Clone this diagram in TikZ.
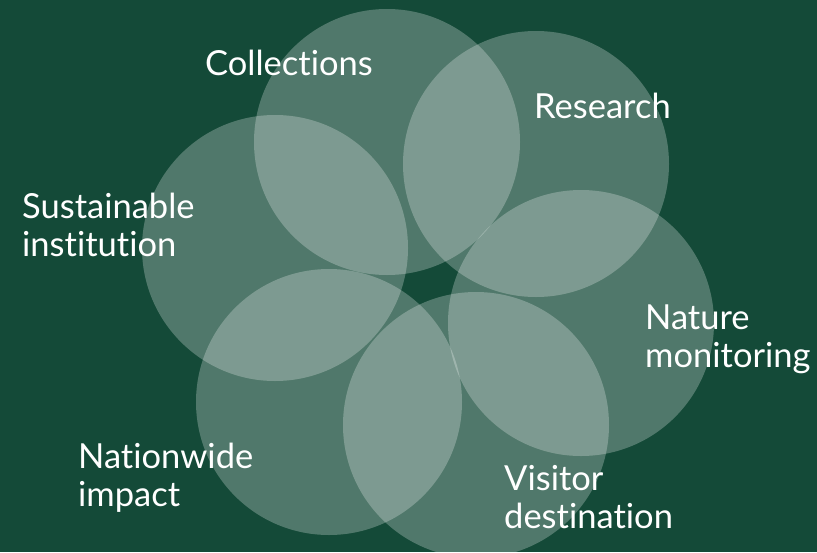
\documentclass[tikz,border=0pt]{standalone}
\usepackage{fontspec}
\setmainfont{Lato}[Ligatures=NoCommon]
\definecolor{forest}{RGB}{20,74,56}

\begin{document}
\begin{tikzpicture}[
    x=1pt,
    y=-1pt,
    petal/.style={circle, fill=white, fill opacity=0.26, minimum size=266pt, inner sep=0pt},
    areatext/.style={anchor=north west, align=left, inner sep=0pt, text=white,
                     font=\fontsize{34.5}{38}\selectfont},
]

    \fill[forest] (0,0) rectangle (817,552);
    \useasboundingbox (0,0) rectangle (817,552);

    \node[petal] (sustainable) at (275,248) {};
    \node[petal] (collections) at (387,142) {};
    \node[petal] (research)    at (536,164) {};
    \node[petal] (nature)      at (581,323) {};
    \node[petal] (visitor)     at (476,425) {};
    \node[petal] (nationwide)  at (329,402) {};

    \node[areatext] (collectionstext) at (205,50)  {Collections};
    \node[areatext] (researchtext)    at (534,93)  {Research};
    \node[areatext] (sustainabletext) at (22,193)  {Sustainable\\institution};
    \node[areatext] (naturetext)      at (645,305) {Nature\\monitoring};
    \node[areatext] (nationwidetext)  at (78,443)  {Nationwide\\impact};
    \node[areatext] (visitortext)     at (504,465) {Visitor\\destination};
\end{tikzpicture}
\end{document}
